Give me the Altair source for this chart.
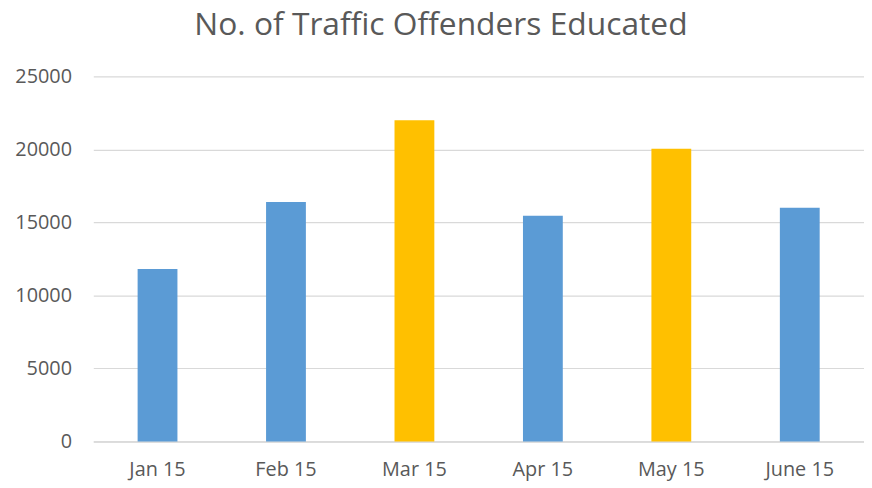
import altair as alt
import pandas as pd

months = ["Jan 15", "Feb 15", "Mar 15", "Apr 15", "May 15", "June 15"]
offenders = [11800, 16400, 22000, 15450, 20050, 16000]
highlighted = ["Mar 15", "May 15"]

df = pd.DataFrame({"month": months, "offenders": offenders})

FONT = "Open Sans"
TXT = "#595959"
GRID = "#D9D9D9"

chart = (
    alt.Chart(df)
    .mark_bar()
    .encode(
        x=alt.X(
            "month:N",
            sort=months,
            title=None,
            scale=alt.Scale(paddingInner=0.69, paddingOuter=0.345),
            axis=alt.Axis(
                labelAngle=0,
                ticks=False,
                domainColor=GRID,
                domainWidth=1.5,
                labelColor=TXT,
                labelFont=FONT,
                labelFontSize=20,
                labelPadding=18,
                grid=False,
            ),
        ),
        y=alt.Y(
            "offenders:Q",
            title=None,
            scale=alt.Scale(domain=[0, 25000], nice=False),
            axis=alt.Axis(
                values=[0, 5000, 10000, 15000, 20000, 25000],
                format="d",
                ticks=False,
                domain=False,
                gridColor=GRID,
                gridWidth=1.2,
                labelColor=TXT,
                labelFont=FONT,
                labelFontSize=20,
                labelPadding=22,
            ),
        ),
        color=alt.condition(
            alt.FieldOneOfPredicate(field="month", oneOf=highlighted),
            alt.value("#FFC000"),
            alt.value("#5B9BD5"),
        ),
    )
    .properties(
        width=777,
        height=368,
        title=alt.TitleParams(
            "No. of Traffic Offenders Educated",
            font=FONT,
            fontSize=32,
            fontWeight="normal",
            color=TXT,
            anchor="middle",
            offset=25,
            dx=-38,
        ),
        autosize=alt.AutoSizeParams(type="none"),
        padding={"left": 86, "top": 67, "right": 0, "bottom": 42},
    )
    .configure_view(stroke=None)
)

chart.save("out.html", embed_options={"renderer": "svg", "actions": False})
